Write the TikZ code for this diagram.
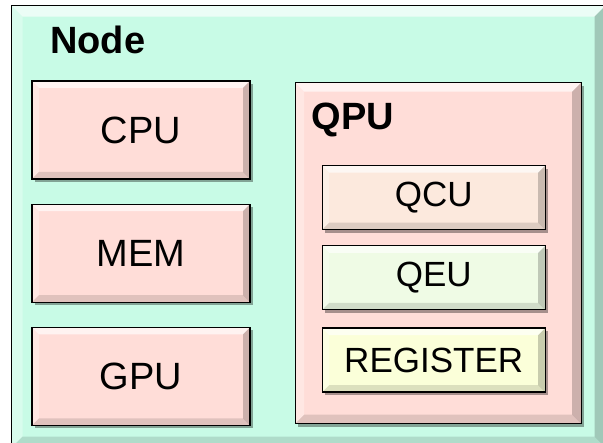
\documentclass[tikz,border=0pt]{standalone}
\usepackage{fontspec}
\setmainfont{Liberation Sans}
\usetikzlibrary{positioning, shadows, calc}
\definecolor{nodegreen}{RGB}{200,251,230}
\definecolor{unitpink}{RGB}{255,221,216}
\definecolor{qcupeach}{RGB}{252,233,221}
\definecolor{qeugreen}{RGB}{239,251,229}
\definecolor{regyellow}{RGB}{251,255,217}
\tikzset{bevel/.style={path picture={
  \fill[white,opacity=.65] (path picture bounding box.north west) -- (path picture bounding box.north east) -- ([shift={(-#1,-#1)}]path picture bounding box.north east) -- ([shift={(#1,-#1)}]path picture bounding box.north west) -- cycle;
  \fill[white,opacity=.3] (path picture bounding box.north west) -- ([shift={(#1,-#1)}]path picture bounding box.north west) -- ([shift={(#1,#1)}]path picture bounding box.south west) -- (path picture bounding box.south west) -- cycle;
  \fill[black,opacity=.12] (path picture bounding box.south west) -- ([shift={(#1,#1)}]path picture bounding box.south west) -- ([shift={(-#1,#1)}]path picture bounding box.south east) -- (path picture bounding box.south east) -- cycle;
  \fill[black,opacity=.2] (path picture bounding box.south east) -- ([shift={(-#1,#1)}]path picture bounding box.south east) -- ([shift={(-#1,-#1)}]path picture bounding box.north east) -- (path picture bounding box.north east) -- cycle;
  }},
block/.style={draw, line width=1.2pt, bevel=7pt, drop shadow={shadow xshift=3pt, shadow yshift=-3pt, fill=black, opacity=.35}, fill=unitpink, minimum width=218pt, minimum height=98pt, font=\fontsize{38}{44}\selectfont},
unit/.style={block, minimum width=223pt, minimum height=64pt, font=\fontsize{35}{40}\selectfont},
container/.style={block, bevel=11pt},
title/.style={anchor=base west, inner sep=0pt, font=\bfseries\fontsize{38}{44}\selectfont}
}

\begin{document}
\begin{tikzpicture}[x=1pt, y=1pt, node distance=24pt]
\useasboundingbox (0,0) rectangle (603,-443);
\node[container, fill=nodegreen, minimum width=594pt, minimum height=442pt, anchor=north west] (Node Box) at (11,-5) {};
\node[title] (Node Title) at ($(Node Box.north west)+(39,-49)$) {Node};

\node[block] (CPU) at (141,-130) {CPU};
\node[block, below=of CPU] (MEM) {MEM};
\node[block, below=of MEM] (GPU) {GPU};

\node[block, bevel=9pt, minimum width=286pt, minimum height=341pt, right=44pt of MEM] (QPU) {};
\node[title] (QPU Title) at ($(QPU.north west)+(17,-47)$) {QPU};
\node[unit, fill=qcupeach, below right=83pt and 27pt of QPU.north west] (QCU) {QCU};
\node[unit, fill=qeugreen, below=15pt of QCU] (QEU) {QEU};
\node[unit, fill=regyellow, below=17pt of QEU] (REGISTER) {REGISTER};
\end{tikzpicture}
\end{document}
